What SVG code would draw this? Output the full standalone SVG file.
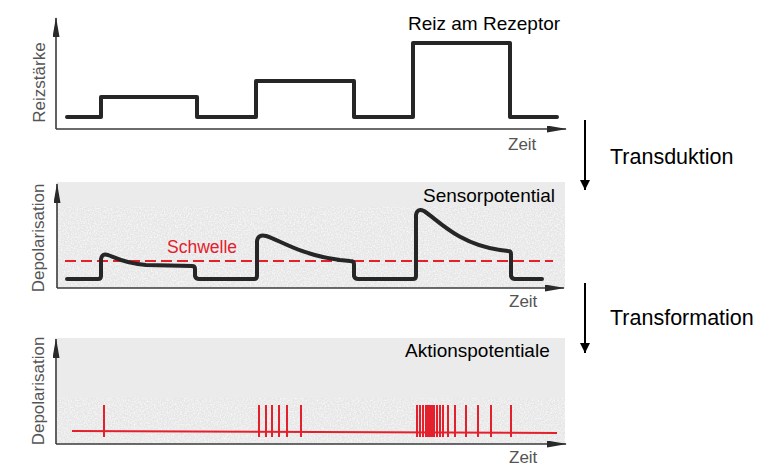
<svg xmlns="http://www.w3.org/2000/svg" width="768" height="471" viewBox="0 0 768 471">
  <defs>
    <style>
      .axis { stroke: #3a3a3a; stroke-width: 1.6; fill: none; }
      .curve { stroke: #262626; stroke-width: 4; fill: none; stroke-linejoin: round; stroke-linecap: round; }
      .red { stroke: #e3202c; stroke-width: 2; fill: none; }
      .ax-label { font-family: "Liberation Sans", Arial, sans-serif; font-size: 17px; fill: #555; }
      .title { font-family: "Liberation Sans", Arial, sans-serif; font-size: 19px; fill: #000; }
      .side { font-family: "Liberation Sans", Arial, sans-serif; font-size: 21.5px; fill: #000; }
      .flat { fill: #ebebeb; }
      .speck { fill: #e6e6e6; }
    </style>
    <marker id="axhead" markerUnits="userSpaceOnUse" markerWidth="20" markerHeight="8" refX="19" refY="3.5" orient="auto">
      <path d="M0,0 L20,3.5 L0,7 Z" fill="#2a2a2a"/>
    </marker>
    <marker id="flow" markerUnits="userSpaceOnUse" markerWidth="12" markerHeight="12" refX="10" refY="5" orient="auto">
      <path d="M0,0 L10,5 L0,10 Z" fill="#000"/>
    </marker>
    <filter id="noise" x="0" y="0" width="100%" height="100%">
      <feTurbulence type="fractalNoise" baseFrequency="0.7" numOctaves="2" seed="3" result="t"/>
      <feColorMatrix in="t" type="matrix" values="0 0 0 0 1  0 0 0 0 1  0 0 0 0 1  0 0 0 1.6 -0.6" result="g"/>
      <feComposite in="g" in2="SourceGraphic" operator="in"/>
    </filter>
  </defs>

  <rect width="768" height="471" fill="#ffffff"/>

  <!-- Panel 1: Reiz am Rezeptor -->
  <g id="panel-reiz">
    <path class="axis" d="M56,129 V18" marker-end="url(#axhead)"/>
    <path class="axis" d="M56,129 H566" marker-end="url(#axhead)"/>
    <path class="curve" d="M67,117 H101 V97 H197 V117 H256 V81 H354 V117 H413 V43 H510 V117 H557"/>
    <text class="title" x="408" y="30">Reiz am Rezeptor</text>
    <text class="ax-label" x="508" y="150">Zeit</text>
    <text class="ax-label" text-anchor="middle" transform="translate(45,82.5) rotate(-90)">Reizstärke</text>
  </g>

  <!-- Panel 2: Sensorpotential -->
  <g id="panel-sensor">
    <rect class="flat" x="57" y="182" width="508" height="106"/>
    <rect class="speck" x="57" y="207" width="508" height="81"/>
    <rect x="57" y="207" width="508" height="81" fill="#e6e6e6" filter="url(#noise)"/>
    <path class="axis" d="M57,288 V184" marker-end="url(#axhead)"/>
    <path class="axis" d="M57,288 H564" marker-end="url(#axhead)"/>
    <path d="M65,261 H553" stroke="#e3202c" stroke-width="2.2" stroke-dasharray="11,5" fill="none"/>
    <path class="curve" d="M67,279 L98,279 Q101,279 101,276 L101,259 Q102,253 108,255 C116,258 126,264 146,265 L192,266 Q195,266 195,269 L195,276 Q196,279 199,279 L254,279 Q257,279 257,276 L257,241 Q258,234 266,236 C280,240 300,255 340,260 L350,261 Q354,261 354,264 L354,276 Q355,279 358,279 L413,279 Q416,279 416,276 L416,215 Q417,208 424,211 C438,220 458,244 500,250 L508,251 Q511,251 511,254 L511,276 Q512,279 515,279 L542,279"/>
    <text x="167" y="253" font-family="'Liberation Sans', Arial, sans-serif" font-size="17.5" fill="#e3202c">Schwelle</text>
    <text class="title" x="423" y="202">Sensorpotential</text>
    <text class="ax-label" x="509" y="307">Zeit</text>
    <text class="ax-label" text-anchor="middle" transform="translate(44,238) rotate(-90)">Depolarisation</text>
  </g>

  <!-- Panel 3: Aktionspotentiale -->
  <g id="panel-aktion">
    <rect class="flat" x="57" y="338" width="508" height="106"/>
    <rect class="speck" x="57" y="398" width="508" height="46"/>
    <rect x="57" y="398" width="508" height="46" fill="#e6e6e6" filter="url(#noise)"/>
    <path class="axis" d="M56,444 V339" marker-end="url(#axhead)"/>
    <path class="axis" d="M56,444 H566" marker-end="url(#axhead)"/>
    <path class="red" d="M72,431 L557,433"/>
    <path class="red" d="M104,405 V437 M259,405 V437 M266,405 V437 M272,405 V437 M279,405 V437 M287,405 V437 M301,405 V437 M417,405 V437 M420,405 V437 M423,405 V437 M426,405 V437 M427.5,405 V437 M429,405 V437 M430.5,405 V437 M432,405 V437 M434,405 V437 M437,405 V437 M440,405 V437 M443,405 V437 M448,405 V437 M455,405 V437 M466,405 V437 M478,405 V437 M491,405 V437 M511,405 V437"/>
    <text class="title" x="405" y="357">Aktionspotentiale</text>
    <text class="ax-label" x="509" y="463">Zeit</text>
    <text class="ax-label" text-anchor="middle" transform="translate(44,391) rotate(-90)">Depolarisation</text>
  </g>

  <!-- Connectors between stages -->
  <g id="connectors">
    <path d="M585,120 V190" stroke="#000" stroke-width="2" fill="none" marker-end="url(#flow)"/>
    <path d="M585,283 V353" stroke="#000" stroke-width="2" fill="none" marker-end="url(#flow)"/>
  </g>

  <g id="label-transduktion">
    <text class="side" x="610" y="164">Transduktion</text>
  </g>
  <g id="label-transformation">
    <text class="side" x="610" y="325">Transformation</text>
  </g>
</svg>
